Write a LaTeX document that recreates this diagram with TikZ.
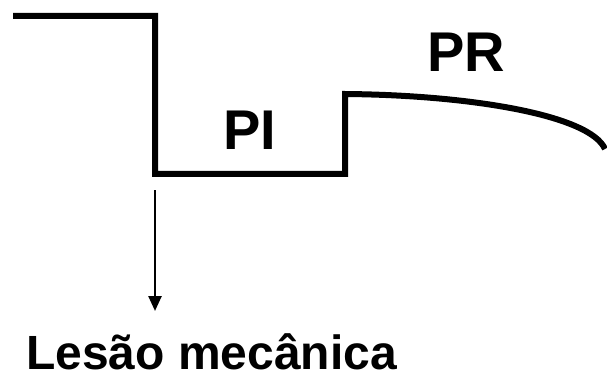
\documentclass[tikz,border=0pt]{standalone}
\usepackage{fontspec}
\setmainfont{Liberation Sans}
\usetikzlibrary{arrows.meta}
\begin{document}
\begin{tikzpicture}[x=1pt,y=-1pt,
  trace/.style={line width=6pt, line join=miter},
  pointer/.style={line width=2.5pt, -{Triangle[length=15pt,width=13pt]}},
  biglabel/.style={inner sep=0pt, anchor=base, font=\fontsize{56}{56}\selectfont\bfseries},
  caption/.style={inner sep=0pt, text depth=0pt, anchor=base west, font=\fontsize{48}{48}\selectfont\bfseries}]
\useasboundingbox (0,0) rectangle (607,374);
\coordinate (p0) at (13,16);
\coordinate (p1) at (155,16);
\coordinate (p2) at (155,174);
\coordinate (p3) at (345,174);
\coordinate (p4) at (345,94);
\coordinate (p5) at (605,149);
\draw[trace] (p0) -- (p1) -- (p2) -- (p3) -- (p4) .. controls (470,95) and (590,115) .. (p5);
\node[biglabel] (pi) at (250,150) {PI};
\node[biglabel] (pr) at (466,72) {PR};
\node[caption] (lesao) at (26,369) {Lesão mecânica};
\coordinate (arrowstart) at (155,190);
\coordinate (arrowend) at (155,311);
\draw[pointer] (arrowstart) -- (arrowend);
\end{tikzpicture}
\end{document}
